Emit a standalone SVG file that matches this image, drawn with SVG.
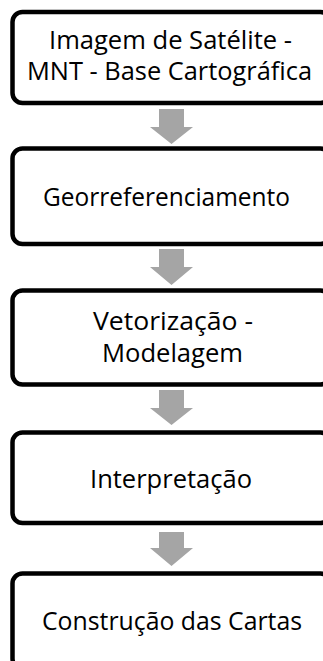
<svg xmlns="http://www.w3.org/2000/svg" width="323" height="661" viewBox="0 0 323 661">
  <style>
    .box { fill: #ffffff; stroke: #000000; stroke-width: 4.5; }
    .lbl { font-family: "Open Sans", "Noto Sans", "Liberation Sans", sans-serif; font-size: 25px; fill: #000000; }
    .arw { fill: #a5a5a5; }
  </style>
  <rect width="323" height="661" fill="#ffffff"/>
  <g id="connectors">
    <polygon class="arw" points="159,109 184,109 184,127 193,127 171.5,144 150,127 159,127"/>
    <polygon class="arw" points="159,249 184,249 184,267 193,267 171.5,285 150,267 159,267"/>
    <polygon class="arw" points="159,390 184,390 184,408 193,408 171.5,425 150,408 159,408"/>
    <polygon class="arw" points="159,532 184,532 184,548 193,548 171.5,566 150,548 159,548"/>
  </g>
  <g id="node1">
    <rect class="box" x="12.5" y="12" width="318" height="91" rx="10"/>
    <text class="lbl" x="49" y="49" textLength="243" lengthAdjust="spacingAndGlyphs">Imagem de Satélite -</text>
    <text class="lbl" x="27" y="80" textLength="285" lengthAdjust="spacingAndGlyphs">MNT - Base Cartográfica</text>
  </g>
  <g id="node2">
    <rect class="box" x="12.5" y="148.5" width="318" height="95.5" rx="10"/>
    <text class="lbl" x="43" y="206" textLength="247" lengthAdjust="spacingAndGlyphs">Georreferenciamento</text>
  </g>
  <g id="node3">
    <rect class="box" x="12.5" y="290.5" width="318" height="94" rx="10"/>
    <text class="lbl" x="93" y="329.5" textLength="160" lengthAdjust="spacingAndGlyphs">Vetorização -</text>
    <text class="lbl" x="102" y="361.5" textLength="141" lengthAdjust="spacingAndGlyphs">Modelagem</text>
  </g>
  <g id="node4">
    <rect class="box" x="12.5" y="432.5" width="318" height="90.5" rx="10"/>
    <text class="lbl" x="90" y="488" textLength="162" lengthAdjust="spacingAndGlyphs">Interpretação</text>
  </g>
  <g id="node5">
    <rect class="box" x="12.5" y="573.5" width="318" height="95" rx="10"/>
    <text class="lbl" x="42" y="630" textLength="260" lengthAdjust="spacingAndGlyphs">Construção das Cartas</text>
  </g>
</svg>
